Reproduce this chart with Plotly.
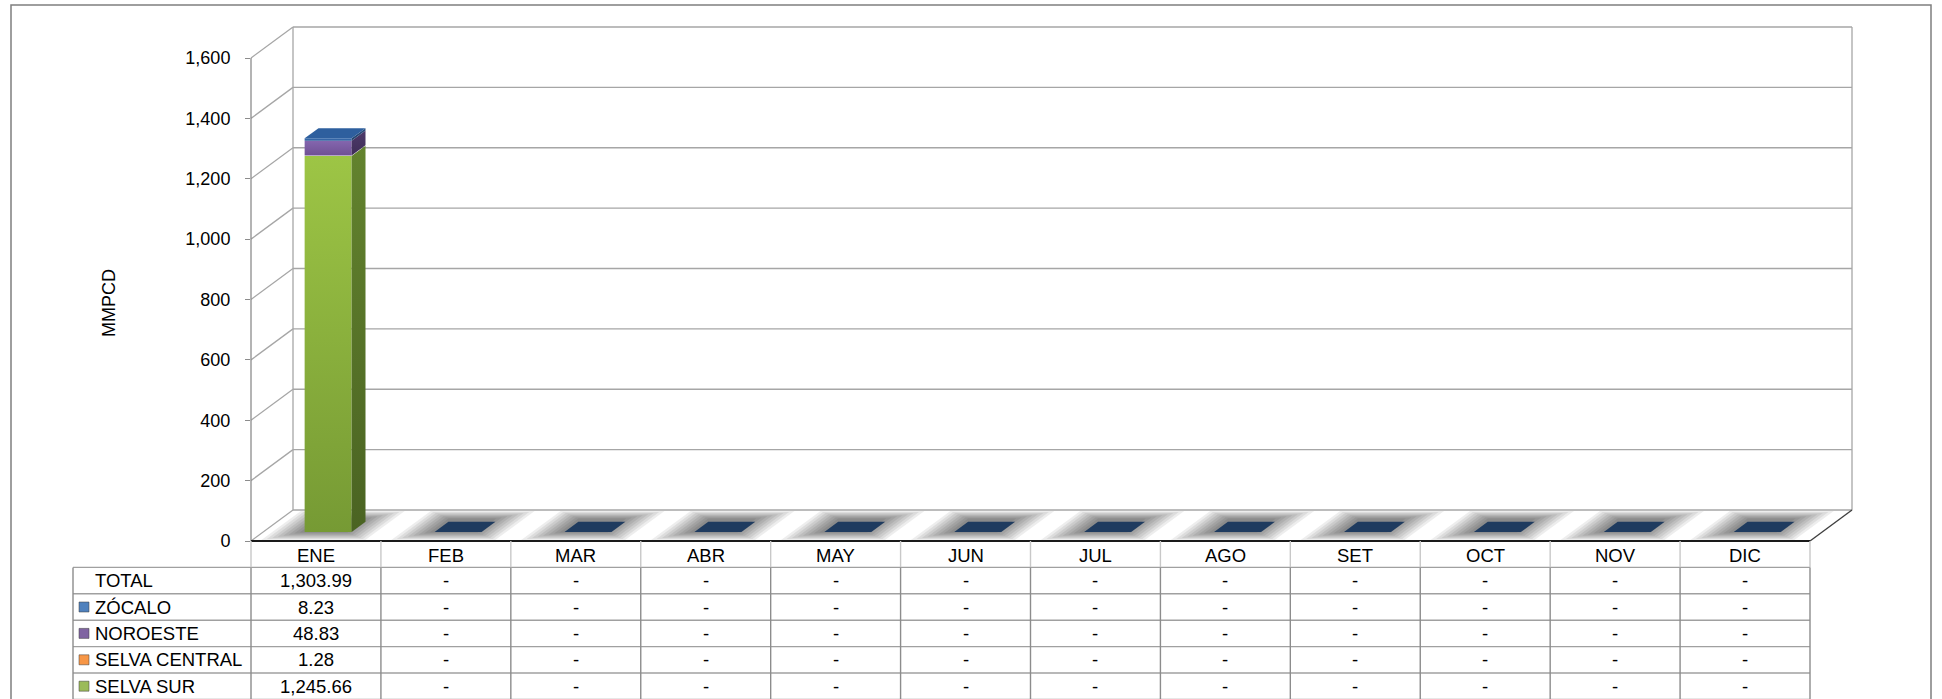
import plotly.graph_objects as go

# ---------------- data ----------------
MONTHS = ["ENE", "FEB", "MAR", "ABR", "MAY", "JUN", "JUL", "AGO", "SET", "OCT", "NOV", "DIC"]
SELVA_SUR = [1245.66, None, None, None, None, None, None, None, None, None, None, None]
SELVA_CENTRAL = [1.28, None, None, None, None, None, None, None, None, None, None, None]
NOROESTE = [48.83, None, None, None, None, None, None, None, None, None, None, None]
ZOCALO = [8.23, None, None, None, None, None, None, None, None, None, None, None]
TOTAL = [1303.99, None, None, None, None, None, None, None, None, None, None, None]
Y_TICKS = [0, 200, 400, 600, 800, 1000, 1200, 1400, 1600]
Y_TITLE = "MMPCD"

# ---------------- styling / calibration ----------------
W, H = 1942, 699
FX0, FX1 = 251, 1810          # front floor x-extent (px)
FY0, FYT = 541, 58            # front y of value 0 and of top tick (px)
YMAX = Y_TICKS[-1]
N = len(MONTHS)
kx = (FX1 - FX0) / N
ky = (FY0 - FYT) / YMAX
XR = [-0.5 - FX0 / kx, N - 0.5 + (W - FX1) / kx]
YR = [-(H - FY0) / ky, YMAX + FYT / ky]
DX = 42 / kx                  # depth in x units
DY = 31 / ky                  # depth in value units
F0, F1 = 0.29, 0.62           # bar front/back depth fractions
BH = 23.5 / kx                # bar half width
ROWH = 26.4                   # table row height px
Y2R = [(H - FY0) / ROWH, -FY0 / ROWH]
FONT = "Liberation Sans, Arial, sans-serif"

GRID = "#A6A6A6"

# series in stacking order (bottom -> top)
SERIES = [
    dict(name="SELVA SUR", vals=SELVA_SUR, key="#9BBB59", lo="#769A34", hi="#9DC545",
         side_lo="#4A6322", side_hi="#63832E", top="#A9CC5C"),
    dict(name="SELVA CENTRAL", vals=SELVA_CENTRAL, key="#F79646", lo="#E07B2C", hi="#F79646",
         side_lo="#A85A1E", side_hi="#B8652A", top="#F9A868"),
    dict(name="NOROESTE", vals=NOROESTE, key="#8064A2", lo="#6F5094", hi="#8466AE",
         side_lo="#3F2D58", side_hi="#4D3A6A", top="#9479B8"),
    dict(name="ZÓCALO", vals=ZOCALO, key="#4F81BD", lo="#2F5F9C", hi="#3A6CAE",
         side_lo="#23446E", side_hi="#284D7C", top="#2E5F9E"),
]
ZERO_TOP = "#1F3B5F"

fig = go.Figure()
shapes = []


def line(x0, y0, x1, y1, color, width=1.3, yref="y", layer="below"):
    shapes.append(dict(type="line", xref="x", yref=yref, x0=x0, y0=y0, x1=x1, y1=y1,
                       line=dict(color=color, width=width), layer=layer))


def poly(xs, ys, color=None, grad=None, yaxis="y"):
    kw = dict(fillcolor=color) if grad is None else dict(
        fillgradient=dict(type="vertical", colorscale=[[0, grad[0]], [1, grad[1]]]))
    fig.add_trace(go.Scatter(x=xs + [xs[0]], y=ys + [ys[0]], mode="lines", fill="toself",
                             line=dict(width=0), hoverinfo="skip", showlegend=False,
                             yaxis=yaxis, **kw))


def P(x, v, d):
    return x + d * DX, v + d * DY


# ---------------- walls & grid ----------------
xl, xr_ = -0.5, N - 0.5
for v in Y_TICKS:
    bx0, by = P(xl, v, 1)
    bx1, _ = P(xr_, v, 1)
    line(bx0, by, bx1, by, GRID)            # back wall gridline
    line(xl, v, bx0, by, GRID)              # side wall diagonal
line(P(xl, 0, 1)[0], DY, P(xl, 0, 1)[0], YMAX + DY, GRID)
line(P(xr_, 0, 1)[0], DY, P(xr_, 0, 1)[0], YMAX + DY, GRID)
line(xl, 0, xl, YMAX, "#8C8C8C")            # front value axis
line(xr_, 0, P(xr_, 0, 1)[0], DY, "#404040", 1.4, layer="above")
line(xl, 0, xr_, 0, "#1A1A1A", 2.2, layer="above")

# ---------------- shadows ----------------
LAYERS = 8
for i in range(N):
    c = i - 0.03
    for k in range(LAYERS):
        hw = (52 - 4 * k) / kx
        d0 = 0.03 + 0.035 * k
        d1 = 0.97 - 0.035 * k
        xa, ya = P(c - hw, 0, d0)
        xb, yb = P(c + hw, 0, d0)
        xc, yc = P(c + hw, 0, d1)
        xd, yd = P(c - hw, 0, d1)
        poly([xa, xb, xc, xd], [ya, yb, yc, yd], "rgba(0,0,0,0.07)")

# ---------------- bars ----------------
for i in range(N):
    cum = 0.0
    top_color = None
    for s in SERIES:
        v = s["vals"][i]
        if v is None or v <= 0:
            continue
        lo, hi = cum, cum + v
        cum = hi
        xfl, yfl = P(i - BH, lo, F0)
        xfr, yfh = P(i + BH, hi, F0)
        poly([xfl, xfr, xfr, xfl], [yfl, yfl, yfh, yfh], grad=(s["lo"], s["hi"]))
        xbr, ybl = P(i + BH, lo, F1)
        _, ybh = P(i + BH, hi, F1)
        poly([xfr, xbr, xbr, xfr], [yfl, ybl, ybh, yfh], grad=(s["side_lo"], s["side_hi"]))
        top_color = s["top"]
    if top_color is None:
        top_color = ZERO_TOP
    ax, ay = P(i - BH, cum, F0)
    bx, _ = P(i + BH, cum, F0)
    cx, cy = P(i + BH, cum, F1)
    dx_, _ = P(i - BH, cum, F1)
    poly([ax, bx, cx, dx_], [ay, ay, cy, cy], top_color)

# ---------------- data table ----------------
TBL_L = -0.5 - (FX0 - 73) / kx
ROWS = [("TOTAL", TOTAL, None)] + [(s["name"], s["vals"], s["key"]) for s in reversed(SERIES)]
NR = len(ROWS) + 1
TBL_LINE = "#8C8C8C"
for r in range(1, NR + 1):
    line(TBL_L, r, xr_, r, "#A0A0A0", 1.4, yref="y2", layer="above")
line(TBL_L, 1, TBL_L, NR, TBL_LINE, 1.4, yref="y2", layer="above")
for k in range(N + 1):
    xk = -0.5 + k
    line(xk, 0, xk, 1, "#C8C8C8", 1.4, yref="y2", layer="above")
    line(xk, 1, xk, NR, TBL_LINE, 1.4, yref="y2", layer="above")

ann = []
tf = dict(family=FONT, size=18.5, color="#000000")
for i, m in enumerate(MONTHS):
    ann.append(dict(x=i, y=0.56, xref="x", yref="y2", text=m, showarrow=False, font=tf,
                    xanchor="center", yanchor="middle"))
LBL_X = -0.5 - (FX0 - 93) / kx
KEY_X = -0.5 - (FX0 - 84) / kx
kx_list, ky_list, kc_list = [], [], []
for r, (name, vals, key) in enumerate(ROWS, start=1):
    yc = r + 0.5
    ann.append(dict(x=LBL_X, y=yc, xref="x", yref="y2", text=name, showarrow=False, font=tf,
                    xanchor="left", yanchor="middle"))
    if key:
        kx_list.append(KEY_X)
        ky_list.append(yc)
        kc_list.append(key)
    for i, v in enumerate(vals):
        txt = "-" if v is None else f"{v:,.2f}"
        ann.append(dict(x=i, y=yc, xref="x", yref="y2", text=txt, showarrow=False, font=tf,
                        xanchor="center", yanchor="middle"))
fig.add_trace(go.Scatter(x=kx_list, y=ky_list, yaxis="y2", mode="markers", hoverinfo="skip",
                         showlegend=False,
                         marker=dict(symbol="square", size=10, color=kc_list,
                                     line=dict(color="rgba(60,60,60,0.5)", width=1))))

ann.append(dict(x=97 / W, y=1 - 303 / H, xref="paper", yref="paper", text=Y_TITLE,
                textangle=-90, showarrow=False, font=dict(family=FONT, size=18, color="#000")))

# outer frame
shapes.append(dict(type="rect", xref="paper", yref="paper", x0=11 / W, x1=1931 / W,
                   y0=-0.05, y1=1 - 5 / H, line=dict(color="#7F7F7F", width=1.5),
                   layer="above"))

fig.update_layout(
    width=W, height=H, margin=dict(l=0, r=0, t=0, b=0),
    paper_bgcolor="white", plot_bgcolor="white", showlegend=False,
    shapes=shapes, annotations=ann,
    xaxis=dict(range=XR, visible=False, fixedrange=True),
    yaxis=dict(range=YR, domain=[0, 1], anchor="free", position=(FX0 - 1) / W,
               tickvals=Y_TICKS, tickformat=",d", ticks="outside", ticklen=5,
               tickcolor="#8C8C8C", tickwidth=1.2, showline=False, showgrid=False,
               zeroline=False, ticklabelstandoff=11,
               tickfont=dict(family=FONT, size=18, color="#000"), fixedrange=True),
    yaxis2=dict(range=Y2R, overlaying="y", anchor="x", visible=False, fixedrange=True),
)

fig.write_html("out.html", config=dict(displayModeBar=False),
               post_script="document.body.style.margin='0px';document.body.style.overflow='hidden';")
